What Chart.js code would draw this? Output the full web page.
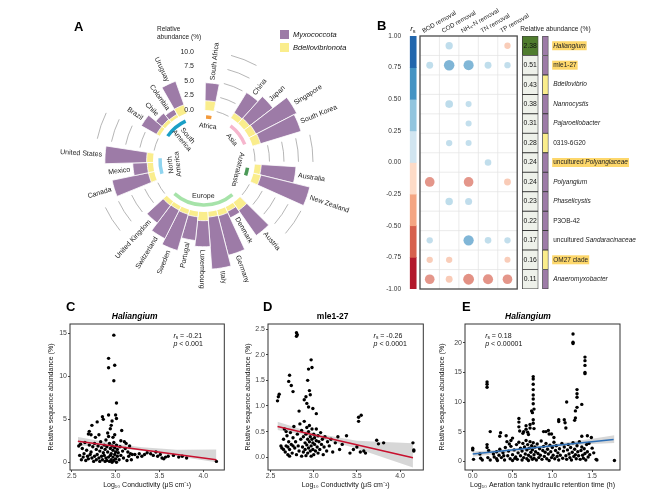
<!DOCTYPE html>
<html>
<head>
<meta charset="utf-8">
<title>Myxococcota in activated sludge</title>
<script src="https://cdn.jsdelivr.net/npm/chart.js@4.4.1/dist/chart.umd.min.js"></script>
<style>
  body { margin: 0; background: #fff; }
  #page { position: relative; width: 650px; height: 498px; overflow: hidden; font-family: 'Liberation Sans', Arial, sans-serif; }
  .box { position: absolute; }
  .tag { position: absolute; font-size: 13px; font-weight: bold; line-height: 13px; color: #000; }
</style>
</head>
<body>
<div id="page">
  <div class="box" style="left:40px;top:0;width:330px;height:310px"><canvas id="chartA"></canvas></div>
  <div class="box" style="left:370px;top:0;width:280px;height:300px"><canvas id="chartB"></canvas></div>
  <div class="box" style="left:45px;top:305px;width:185px;height:187px"><canvas id="chartC"></canvas></div>
  <div class="box" style="left:242px;top:305px;width:188px;height:187px"><canvas id="chartD"></canvas></div>
  <div class="box" style="left:436px;top:305px;width:192px;height:187px"><canvas id="chartE"></canvas></div>
  <div class="tag" style="left:74px;top:20px">A</div>
  <div class="tag" style="left:377px;top:19px">B</div>
  <div class="tag" style="left:66px;top:300px">C</div>
  <div class="tag" style="left:263px;top:300px">D</div>
  <div class="tag" style="left:462px;top:300px">E</div>
</div>
<script>
// ---- panel A: relative abundance per country (%)
var countries = ['South Africa', 'China', 'Japan', 'Singapore', 'South Korea', 'Australia', 'New Zealand',
  'Austria', 'Denmark', 'Germany', 'Italy', 'Luxembourg', 'Portugal', 'Sweden', 'Switzerland', 'United Kingdom',
  'Canada', 'Mexico', 'United States', 'Brazil', 'Chile', 'Colombia', 'Uruguay'];
var continents = ['Africa', 'Asia', 'Asia', 'Asia', 'Asia', 'Australasia', 'Australasia',
  'Europe', 'Europe', 'Europe', 'Europe', 'Europe', 'Europe', 'Europe', 'Europe', 'Europe',
  'North America', 'North America', 'North America', 'South America', 'South America', 'South America', 'South America'];
var myxococcota = [3.1, 4.1, 5.05, 7.9, 7.3, 6.0, 8.7, 5.3, 1.2, 7.0, 9.0, 4.5, 4.1, 6.5, 5.5, 3.8, 6.4, 2.5, 7.2, 3.0, 1.4, 1.0, 4.3];
var bdellovibrionota = [1.6, 1.0, 1.15, 1.3, 1.4, 1.1, 1.3, 1.6, 0.8, 1.0, 0.9, 1.5, 0.9, 0.8, 0.7, 0.8, 1.0, 1.0, 1.1, 0.6, 0.6, 0.5, 1.5];
var abundanceTicks = [0, 2.5, 5, 7.5, 10];

// ---- panel B: spearman correlations with removal efficiencies
var genera = ['Haliangium', 'mle1-27', 'Bdellovibrio', 'Nannocystis', 'Pajaroellobacter', '0319-6G20',
  'uncultured Polyangiaceae', 'Polyangium', 'Phaselicystis', 'P3OB-42', 'uncultured Sandaracinaceae', 'OM27 clade', 'Anaeromyxobacter'];
var relAbundance = [2.38, 0.51, 0.43, 0.38, 0.31, 0.28, 0.24, 0.24, 0.23, 0.22, 0.17, 0.16, 0.11];
var phylum = ['Myxococcota', 'Myxococcota', 'Bdellovibrionota', 'Myxococcota', 'Myxococcota', 'Bdellovibrionota',
  'Myxococcota', 'Myxococcota', 'Myxococcota', 'Myxococcota', 'Myxococcota', 'Bdellovibrionota', 'Myxococcota'];
var highlighted = ['Haliangium', 'mle1-27', 'uncultured Polyangiaceae', 'OM27 clade'];
var indicators = ['BOD removal', 'COD removal', 'NH\u2084-N removal', 'TN removal', 'TP removal'];
var rsBOD = [null, 0.32, null, null, null, null, null, -0.52, null, null, 0.28, -0.28, -0.52];
var rsCOD = [0.35, 0.58, null, 0.38, null, 0.28, null, null, 0.36, null, null, -0.28, -0.32];
var rsNH4 = [null, 0.55, null, 0.26, 0.26, 0.26, null, -0.52, 0.33, null, 0.56, null, -0.6];
var rsTN = [null, 0.32, null, null, null, null, 0.3, null, null, null, 0.3, null, -0.55];
var rsTP = [-0.28, 0.28, null, null, null, null, null, -0.32, null, null, 0.28, -0.26, -0.52];
var rsBands = [-1, -0.75, -0.5, -0.25, 0, 0.25, 0.5, 0.75, 1];

// ---- panels C-E: samples, fitted line and its confidence band [x, lower, upper]
var pointsC = [[2.98,14.8],[2.92,12.1],[2.92,11.0],[2.99,11.3],[2.98,9.5],[3.01,6.9],[3.00,5.5],[3.01,5.1],[2.92,5.5],[2.85,5.3],
  [2.86,5.0],[2.79,4.7],[2.73,4.3],[2.70,3.6],[2.69,3.3],[2.72,3.2],[2.96,4.8],[2.95,4.3],[2.94,3.9],[3.07,3.7],
  [2.91,3.4],[2.99,3.2],[2.92,3.0],[2.81,3.2],[2.77,2.9],[3.06,2.5],[3.10,2.4],[3.12,2.2],[2.97,2.9],[2.89,2.6],
  [2.58,1.9],[2.60,2.1],[2.62,1.6],[2.65,2.3],[2.67,1.4],[2.70,2.0],[2.72,1.2],[2.74,1.8],[2.76,2.2],[2.78,1.5],
  [2.80,1.9],[2.82,1.3],[2.83,2.4],[2.84,1.7],[2.86,1.1],[2.87,2.0],[2.88,1.5],[2.90,1.8],[2.91,1.2],[2.93,2.2],
  [2.94,1.6],[2.95,1.0],[2.96,1.9],[2.97,1.4],[2.98,2.3],[2.99,1.7],[3.00,1.2],[3.01,2.0],[3.02,1.5],[3.03,1.1],
  [3.05,1.8],[3.08,1.3],[3.11,1.6],[3.14,1.2],[3.16,1.9],[3.17,1.0],
  [2.59,0.8],[2.61,0.3],[2.63,0.6],[2.64,1.0],[2.66,0.2],[2.68,0.7],[2.69,0.4],[2.71,0.9],[2.73,0.5],[2.75,0.1],
  [2.76,0.7],[2.78,0.3],[2.79,0.9],[2.81,0.5],[2.82,0.1],[2.84,0.7],[2.85,0.3],[2.87,0.8],[2.88,0.1],[2.89,0.5],
  [2.90,0.2],[2.92,0.6],[2.93,0.1],[2.94,0.8],[2.95,0.3],[2.96,0.0],[2.97,0.6],[2.98,0.2],[2.99,0.9],[3.00,0.4],
  [3.01,0.0],[3.02,0.7],[3.04,0.3],[3.06,0.8],[3.09,0.5],[3.13,0.2],[3.15,0.7],[3.18,0.3],[3.19,0.9],
  [3.22,0.9],[3.25,0.6],[3.27,1.0],[3.30,0.7],[3.33,0.9],[3.36,1.1],[3.40,1.0],[3.43,0.8],[3.46,1.2],[3.48,0.7],
  [3.51,0.9],[3.53,0.5],[3.55,0.4],[3.57,0.6],[3.60,0.7],[3.66,0.8],[3.72,0.6],[3.76,0.7],[3.81,0.5],[4.15,0.1]];
var fitC = [[2.57, 2.45], [4.15, 0.3]];
var bandC = [[2.57, 1.95, 2.95], [3.0, 1.65, 2.15], [3.3, 1.35, 1.75], [3.7, 0.7, 1.45], [4.15, 0.0, 1.5]];

var pointsD = [[2.80,2.43],[2.81,2.39],[2.80,2.36],[2.97,1.90],[2.98,1.75],[2.94,1.72],[2.72,1.60],[2.93,1.50],[2.71,1.48],[2.74,1.40],
  [2.76,1.28],[2.58,1.10],[2.59,1.18],[2.60,1.23],[2.95,1.30],[2.96,1.22],[2.91,1.18],[2.92,1.05],[2.94,0.98],[2.89,1.12],
  [2.83,0.90],[3.03,0.85],[2.99,0.95],[3.52,0.78],[3.55,0.82],[3.52,0.70],[3.73,0.33],[3.75,0.26],[3.81,0.28],[4.15,0.28],
  [4.16,0.14],[4.16,0.12],
  [2.63,0.18],[2.65,0.35],[2.66,0.55],[2.67,0.10],[2.68,0.22],[2.69,0.42],[2.70,0.05],[2.71,0.30],[2.72,0.15],[2.73,0.48],
  [2.74,0.25],[2.75,0.08],[2.76,0.38],[2.77,0.60],[2.78,0.18],[2.79,0.30],[2.80,0.05],[2.81,0.45],[2.82,0.22],[2.83,0.12],
  [2.84,0.65],[2.85,0.35],[2.86,0.02],[2.86,0.52],[2.87,0.20],[2.88,0.40],[2.88,0.10],[2.89,0.70],[2.90,0.28],[2.90,0.15],
  [2.91,0.45],[2.91,0.03],[2.92,0.58],[2.92,0.24],[2.93,0.35],[2.93,0.08],[2.94,0.50],[2.94,0.18],[2.95,0.30],[2.95,0.62],
  [2.96,0.12],[2.96,0.40],[2.97,0.22],[2.97,0.02],[2.98,0.35],[2.98,0.55],[2.99,0.15],[2.99,0.28],[3.00,0.45],[3.00,0.05],
  [3.01,0.25],[3.01,0.38],[3.02,0.12],[3.03,0.32],[3.03,0.55],[3.04,0.20],[3.05,0.42],[3.05,0.08],[3.06,0.30],[3.07,0.15],
  [3.08,0.48],[3.09,0.25],[3.10,0.35],[3.11,0.05],[3.12,0.20],[3.13,0.40],[3.15,0.12],[3.16,0.30],[3.18,0.22],[3.20,0.35],
  [3.22,0.10],[3.25,0.28],[3.28,0.40],[3.30,0.15],[3.33,0.25],[3.38,0.42],[3.42,0.08],[3.46,0.15],[3.50,0.20],[3.54,0.10],
  [3.58,0.12],[3.60,0.08],[2.65,0.15],[2.70,0.20],[2.62,0.22],[2.68,0.50],[2.76,0.22],[2.72,0.02]];
var fitD = [[2.58, 0.6], [4.15, -0.01]];
var bandD = [[2.58, 0.53, 0.69], [3.0, 0.40, 0.47], [3.5, 0.17, 0.32], [4.15, -0.2, 0.27]];

var pointsE = [[1.26,21.5],[1.26,20.1],[1.26,19.9],[1.41,17.6],[1.41,17.0],[1.41,16.2],[1.41,15.0],[1.41,14.8],[0.76,14.3],[0.76,13.9],
  [0.76,13.0],[0.76,12.1],[0.76,11.2],[0.76,10.5],[0.76,9.7],[0.18,13.4],[0.18,13.0],[0.18,12.5],[1.31,12.1],[1.31,11.4],
  [1.31,10.8],[1.18,10.0],[1.37,9.6],[0.74,8.5],[0.77,8.8],[0.75,8.2],[1.31,9.1],[1.29,8.5],[1.29,7.3],[1.28,6.9],
  [1.08,7.0],[1.08,6.7],[1.15,7.0],[1.16,6.5],[1.17,5.6],[0.58,7.2],[0.58,6.6],[0.58,5.8],[0.59,5.1],[0.67,6.0],
  [0.67,5.4],[0.69,4.9],[0.70,4.5],[0.64,5.0],[0.63,4.7],[0.72,6.2],[0.72,5.6],[0.76,7.0],[0.76,6.4],[0.77,5.5],
  [0.89,5.0],[0.92,5.0],[0.95,5.2],[0.96,4.6],[0.99,4.6],[1.02,4.0],[1.49,4.0],[1.44,4.3],[1.37,4.2],[0.22,5.0],
  [0.35,4.8],[0.34,4.2],[0.48,3.5],[0.50,3.9],[0.43,3.3],[0.42,4.3],
  [0.00,2.2],[0.00,1.9],[0.01,0.3],[0.09,1.2],[0.10,0.5],[0.12,0.2],[0.18,2.8],[0.18,2.3],[0.19,0.6],[0.20,1.8],
  [0.22,0.2],[0.26,1.2],[0.30,1.6],[0.30,0.4],[0.31,0.1],[0.33,1.0],[0.34,2.0],[0.36,0.6],[0.38,1.4],[0.40,0.2],
  [0.41,2.3],[0.44,0.9],[0.45,1.7],[0.47,0.4],[0.48,2.5],[0.50,1.1],[0.50,0.1],[0.52,1.9],[0.54,0.7],[0.55,2.8],
  [0.56,0.3],[0.57,1.4],[0.58,3.2],[0.60,0.9],[0.60,2.2],[0.62,0.2],[0.62,1.7],[0.63,3.0],[0.64,0.6],[0.65,2.4],
  [0.66,1.2],[0.67,3.5],[0.68,0.4],[0.68,1.9],[0.69,2.8],[0.70,1.0],[0.70,0.1],[0.71,2.2],[0.72,3.3],[0.73,0.7],
  [0.73,1.5],[0.74,2.6],[0.75,0.3],[0.75,1.9],[0.76,3.1],[0.77,1.1],[0.77,0.5],[0.78,2.4],[0.79,1.6],[0.80,0.2],
  [0.81,2.9],[0.82,1.3],[0.83,0.6],[0.84,2.1],[0.85,1.0],[0.86,3.4],[0.87,0.3],[0.88,1.8],[0.89,2.5],[0.90,0.8],
  [0.91,1.5],[0.92,3.0],[0.93,0.4],[0.94,2.0],[0.95,1.2],[0.96,0.1],[0.97,2.7],[0.98,1.6],[0.99,0.6],[1.00,2.3],
  [1.01,1.0],[1.02,3.2],[1.03,0.4],[1.04,1.8],[1.05,2.6],[1.06,0.8],[1.07,1.4],[1.08,0.2],[1.09,2.1],[1.10,1.0],
  [1.12,3.0],[1.13,0.5],[1.14,1.7],[1.15,2.4],[1.17,0.9],[1.18,0.3],[1.19,1.9],[1.20,2.8],[1.21,1.2],[1.22,0.6],
  [1.23,2.3],[1.24,0.2],[1.25,1.5],[1.26,3.1],[1.27,0.8],[1.28,2.0],[1.29,1.1],[1.30,0.4],[1.31,2.6],[1.32,1.6],
  [1.33,0.9],[1.34,3.3],[1.35,0.3],[1.36,1.8],[1.37,2.4],[1.38,1.0],[1.39,0.5],[1.40,2.1],[1.41,1.3],[1.42,0.2],
  [1.43,2.8],[1.44,1.6],[1.45,0.7],[1.46,3.0],[1.47,1.1],[1.50,2.2],[1.52,1.4],[1.55,0.3],[1.56,0.2],[1.78,0.1],
  [0.27,0.7],[0.39,0.9],[0.53,0.5],[0.46,2.9]];
var fitE = [[0.0, 1.2], [1.77, 3.65]];
var bandE = [[0.0, 0.75, 1.65], [0.5, 1.5, 2.1], [1.0, 2.35, 2.85], [1.5, 2.9, 3.8], [1.78, 3.05, 4.4]];

// ---- shared styling
var FAMILY = "'Liberation Sans', Arial, sans-serif";
var purple = '#9d7ba7', yellow = '#faed8c';
var bandColors = ['#b2182b', '#d6604d', '#f4a582', '#fddbc7', '#d1e5f0', '#92c5de', '#4393c3', '#2166ac'];
var ringColors = { 'Africa': '#f39a3c', 'Asia': '#f6b6cd', 'Australasia': '#4c9a58', 'Europe': '#a6e3a9',
  'North America': '#8fd4ef', 'South America': '#1a9fc6' };

Chart.defaults.font.family = FAMILY;
Chart.defaults.color = '#333';
Chart.defaults.animation = false;

function fontStr(size, style, weight) {
  return (style || 'normal') + ' ' + (weight || 'normal') + ' ' + size + 'px ' + FAMILY;
}

function hexToRgba(hex, a) {
  var n = parseInt(hex.slice(1), 16);
  return 'rgba(' + (n >> 16) + ',' + ((n >> 8) & 255) + ',' + (n & 255) + ',' + a + ')';
}

function rsColor(v) {
  var k = Math.max(0, Math.min(7, Math.floor((v + 1) / 0.25)));
  return hexToRgba(bandColors[k], 0.45 + 0.4 * Math.abs(v));
}

// italic r with subscript s, returns the x where it ends
function drawRs(ctx, x, y, size) {
  ctx.font = fontStr(size, 'italic');
  ctx.fillText('r', x, y);
  var w = ctx.measureText('r').width;
  ctx.font = fontStr(size * 0.7);
  ctx.fillText('s', x + w, y + size * 0.25);
  return x + w + ctx.measureText('s').width;
}

/*==================== A: circular stacked bars ====================*/
var slotLabel = [], slotCont = [], slotOuter = [], slotInner = [], gapStarts = [];
function addGap() {
  gapStarts.push(slotLabel.length);
  for (var g = 0; g < 2; g++) {
    slotLabel.push(''); slotCont.push(null); slotOuter.push(0); slotInner.push(0);
  }
}
for (var i = 0; i < countries.length; i++) {
  if (i > 0 && continents[i] !== continents[i - 1]) addGap();
  slotLabel.push(countries[i]);
  slotCont.push(continents[i]);
  slotOuter.push(myxococcota[i] + bdellovibrionota[i]); // stacked on top of Bdellovibrionota
  slotInner.push(bdellovibrionota[i]);
}
addGap(); // the gap holding the radial axis

var circularDecor = {
  id: 'circularDecor',
  afterDatasetsDraw: function (chart) {
    var ctx = chart.ctx, scale = chart.scales.r;
    var cx = scale.xCenter, cy = scale.yCenter;
    var r0 = scale.getDistanceFromCenterForValue(0);
    var arcs = chart.getDatasetMeta(1).data;
    ctx.save();
    ctx.fillStyle = '#fff';
    ctx.beginPath();
    ctx.arc(cx, cy, r0, 0, Math.PI * 2);
    ctx.fill();

    // grid arcs, only in the gaps between continents
    ctx.strokeStyle = '#a3a3a3';
    ctx.lineWidth = 0.8;
    gapStarts.slice(0, -1).forEach(function (g) {
      var a0 = arcs[g].startAngle, a1 = arcs[g + 1].endAngle, pad = (a1 - a0) * 0.15;
      abundanceTicks.forEach(function (v) {
        ctx.beginPath();
        ctx.arc(cx, cy, scale.getDistanceFromCenterForValue(v), a0 + pad, a1 - pad);
        ctx.stroke();
      });
    });

    // radial axis
    ctx.fillStyle = '#222';
    ctx.font = fontStr(7);
    ctx.textAlign = 'right';
    ctx.textBaseline = 'middle';
    abundanceTicks.forEach(function (v) {
      ctx.fillText(v.toFixed(1), cx - 10, cy - scale.getDistanceFromCenterForValue(v));
    });
    var rTop = cy - scale.getDistanceFromCenterForValue(abundanceTicks[abundanceTicks.length - 1]);
    ctx.textAlign = 'left';
    ctx.font = fontStr(6.5);
    ctx.fillText('Relative', cx - 47, rTop - 23);
    ctx.fillText('abundance (%)', cx - 47, rTop - 15);

    // country names along the radius
    ctx.font = fontStr(7);
    arcs.forEach(function (arc, i) {
      if (!slotCont[i]) return;
      var mid = (arc.startAngle + arc.endAngle) / 2;
      var rr = arc.outerRadius + 3;
      var flip = Math.cos(mid) < -0.05;
      ctx.save();
      ctx.translate(cx + rr * Math.cos(mid), cy + rr * Math.sin(mid));
      ctx.rotate(flip ? mid + Math.PI : mid);
      ctx.textAlign = flip ? 'right' : 'left';
      ctx.fillText(slotLabel[i], 0, 0);
      ctx.restore();
    });

    // continent rings and names
    var groups = [];
    slotCont.forEach(function (c) { if (c && groups.indexOf(c) < 0) groups.push(c); });
    groups.forEach(function (c) {
      var idx = [];
      slotCont.forEach(function (cc, k) { if (cc === c) idx.push(k); });
      var f = arcs[idx[0]], l = arcs[idx[idx.length - 1]];
      var a0 = (f.startAngle + f.endAngle) / 2, a1 = (l.startAngle + l.endAngle) / 2;
      var mid = (a0 + a1) / 2, minSpan = 7 * Math.PI / 180;
      if (a1 - a0 < minSpan) { a0 = mid - minSpan / 2; a1 = mid + minSpan / 2; }
      ctx.strokeStyle = ringColors[c];
      ctx.lineWidth = 3.5;
      ctx.beginPath();
      ctx.arc(cx, cy, r0 - 7, a0, a1);
      ctx.stroke();

      var lines = c.indexOf(' ') > 0 ? c.split(' ') : [c];
      var rl = lines.length > 1 ? r0 - 21 : r0 - 16;
      var rot = c === 'South America' ? mid + Math.PI : mid + Math.PI / 2;
      rot = Math.atan2(Math.sin(rot), Math.cos(rot));
      if (Math.abs(rot) > 110 * Math.PI / 180) rot -= Math.PI;
      ctx.save();
      ctx.translate(cx + rl * Math.cos(mid), cy + rl * Math.sin(mid));
      ctx.rotate(rot);
      ctx.fillStyle = '#222';
      ctx.font = fontStr(7);
      ctx.textAlign = 'center';
      ctx.textBaseline = 'middle';
      lines.forEach(function (t, k) { ctx.fillText(t, 0, (k - (lines.length - 1) / 2) * 7.5); });
      ctx.restore();
    });

    // legend
    [1, 0].forEach(function (d, k) {
      var ds = chart.data.datasets[d];
      var y = 30 + k * 13;
      ctx.fillStyle = ds.backgroundColor[0];
      ctx.fillRect(240, y, 9, 9);
      ctx.fillStyle = '#111';
      ctx.font = fontStr(7.5, 'italic');
      ctx.textAlign = 'left';
      ctx.textBaseline = 'middle';
      ctx.fillText(ds.label, 253, y + 4.5);
    });
    ctx.restore();
  }
};

new Chart(document.getElementById('chartA'), {
  type: 'polarArea',
  data: {
    labels: slotLabel,
    datasets: [{
      label: 'Bdellovibrionota',
      data: slotInner,
      backgroundColor: slotCont.map(function (c) { return c ? yellow : 'rgba(0,0,0,0)'; }),
      borderColor: slotCont.map(function (c) { return c ? '#fff' : 'rgba(0,0,0,0)'; }),
      borderWidth: 0.8
    }, {
      label: 'Myxococcota',
      data: slotOuter,
      backgroundColor: slotCont.map(function (c) { return c ? purple : 'rgba(0,0,0,0)'; }),
      borderColor: slotCont.map(function (c) { return c ? '#fff' : 'rgba(0,0,0,0)'; }),
      borderWidth: 0.8
    }]
  },
  options: {
    responsive: true,
    maintainAspectRatio: false,
    animation: false,
    events: [],
    layout: { padding: { left: 19, top: 16, right: 21, bottom: 4 } },
    plugins: { legend: { display: false }, tooltip: { enabled: false } },
    scales: {
      r: {
        min: -8.79,
        max: 16.21,
        beginAtZero: false,
        startAngle: 1,
        ticks: { display: false },
        grid: { display: false },
        angleLines: { display: false },
        pointLabels: { display: false }
      }
    }
  },
  plugins: [circularDecor]
});

/*==================== B: correlation bubbles ====================*/
var cellSpan = [5.26, 6.08], stripSpan = [6.3, 6.6], barX = -0.35, labelX = 6.85;
var gridLeftPx = 50, unitPx = 19.44; // where column 0 starts inside the canvas, and the column width
var heatPoints = [];
[rsBOD, rsCOD, rsNH4, rsTN, rsTP].forEach(function (col, j) {
  col.forEach(function (v, i) {
    if (v !== null) heatPoints.push({ x: j + 0.5, y: genera[i], r: 1.2 + 7 * Math.abs(v), v: v });
  });
});
var colorbarBars = bandColors.map(function (c, k) { return { x: barX, y: [rsBands[k], rsBands[k + 1]] }; });
var abundanceCells = genera.map(function (g) { return { x: cellSpan, y: g }; });
var phylumCells = genera.map(function (g) { return { x: stripSpan, y: g }; });

function drawGenus(ctx, name, x, y) {
  var parts = name.indexOf('uncultured ') === 0 ?
    [['uncultured ', false], [name.slice(11), true]] :
    [[name, /^[A-Z][a-z]+$/.test(name)]];
  var w = 0;
  parts.forEach(function (p) { ctx.font = fontStr(6.5, p[1] ? 'italic' : 'normal'); w += ctx.measureText(p[0]).width; });
  if (highlighted.indexOf(name) >= 0) {
    ctx.fillStyle = '#fdd76b';
    ctx.fillRect(x - 1, y - 4.5, w + 2, 9);
  }
  ctx.fillStyle = '#222';
  parts.forEach(function (p) {
    ctx.font = fontStr(6.5, p[1] ? 'italic' : 'normal');
    ctx.fillText(p[0], x, y);
    x += ctx.measureText(p[0]).width;
  });
}

var heatDecor = {
  id: 'heatDecor',
  // pin the x scale so the grid columns land where the figure has them
  afterLayout: function (chart) {
    var xs = chart.scales.x;
    var A = xs.getPixelForValue(xs.min), B = xs.getPixelForValue(xs.max);
    var mn = -(gridLeftPx - A) / unitPx;
    xs.min = mn;
    xs.max = mn + (B - A) / unitPx;
    xs.configure();
  },
  beforeDatasetsDraw: function (chart) {
    var ctx = chart.ctx, xs = chart.scales.x, ys = chart.scales.y, area = chart.chartArea;
    var x0 = xs.getPixelForValue(0), x1 = xs.getPixelForValue(indicators.length);
    ctx.save();
    ctx.strokeStyle = '#e2e2e2';
    ctx.lineWidth = 0.7;
    ctx.beginPath();
    for (var j = 1; j < indicators.length; j++) {
      var px = xs.getPixelForValue(j);
      ctx.moveTo(px, area.top); ctx.lineTo(px, area.bottom);
    }
    for (var i = 1; i < genera.length; i++) {
      var py = (ys.getPixelForValue(i - 1) + ys.getPixelForValue(i)) / 2;
      ctx.moveTo(x0, py); ctx.lineTo(x1, py);
    }
    ctx.stroke();
    ctx.restore();
  },
  afterDatasetsDraw: function (chart) {
    var ctx = chart.ctx, xs = chart.scales.x, ys = chart.scales.y, area = chart.chartArea;
    var x0 = xs.getPixelForValue(0), x1 = xs.getPixelForValue(indicators.length);
    ctx.save();
    ctx.strokeStyle = '#4a4a4a';
    ctx.lineWidth = 1.3;
    ctx.strokeRect(x0, area.top, x1 - x0, area.bottom - area.top);

    ctx.fillStyle = '#222';
    ctx.font = fontStr(6.3);
    ctx.textAlign = 'left';
    ctx.textBaseline = 'alphabetic';
    indicators.forEach(function (name, j) {
      ctx.save();
      ctx.translate(xs.getPixelForValue(j + 0.5) - 6, area.top - 3);
      ctx.rotate(-Math.PI / 6);
      ctx.fillText(name, 0, 0);
      ctx.restore();
    });
    ctx.font = fontStr(6.6);
    ctx.fillText('Relative abundance (%)', xs.getPixelForValue(cellSpan[0]) - 2, area.top - 5);
    drawRs(ctx, xs.getPixelForValue(barX) - 3, area.top - 5, 8);

    ctx.textAlign = 'center';
    ctx.textBaseline = 'middle';
    ctx.font = fontStr(6.8);
    ctx.fillStyle = '#111';
    var cellMid = (cellSpan[0] + cellSpan[1]) / 2;
    relAbundance.forEach(function (v, i) {
      ctx.fillText(v.toFixed(2), xs.getPixelForValue(cellMid), ys.getPixelForValue(i));
    });

    ctx.textAlign = 'left';
    genera.forEach(function (g, i) { drawGenus(ctx, g, xs.getPixelForValue(labelX), ys.getPixelForValue(i)); });
    ctx.restore();
  }
};

new Chart(document.getElementById('chartB'), {
  type: 'bubble',
  data: {
    datasets: [{
      data: heatPoints,
      backgroundColor: function (c) { return c.raw ? rsColor(c.raw.v) : '#ccc'; },
      borderWidth: 0
    }, {
      type: 'bar',
      yAxisID: 'yc',
      data: colorbarBars,
      backgroundColor: bandColors,
      borderWidth: 0,
      barThickness: 6,
      grouped: false
    }, {
      type: 'bar',
      indexAxis: 'y',
      data: abundanceCells,
      backgroundColor: relAbundance.map(function (v) { return v > 1 ? '#4f7c2e' : '#eef1ea'; }),
      borderColor: '#3a3a3a',
      borderWidth: 0.8,
      borderSkipped: false,
      barThickness: 19.4,
      grouped: false
    }, {
      type: 'bar',
      indexAxis: 'y',
      data: phylumCells,
      backgroundColor: phylum.map(function (p) { return p === 'Myxococcota' ? purple : yellow; }),
      borderColor: '#3a3a3a',
      borderWidth: 0.8,
      borderSkipped: false,
      barThickness: 19.4,
      grouped: false
    }]
  },
  options: {
    responsive: true,
    maintainAspectRatio: false,
    animation: false,
    events: [],
    layout: { padding: { left: 0, top: 36, right: 36, bottom: 11 } },
    plugins: { legend: { display: false }, tooltip: { enabled: false } },
    scales: {
      x: { type: 'linear', min: -0.8, max: 10, offset: false, grid: { offset: false }, display: false },
      y: { type: 'category', labels: genera, offset: true, display: false },
      yc: {
        type: 'linear',
        position: 'left',
        min: -1,
        max: 1,
        ticks: { stepSize: 0.25, callback: function (v) { return v.toFixed(2); }, font: { size: 6.5 }, color: '#333', padding: 3 },
        grid: { display: false, drawTicks: false },
        border: { display: false },
        afterFit: function (s) { s.width = 34; }
      }
    }
  },
  plugins: [heatDecor]
});

/*==================== C-E: scatter with fitted line ====================*/
var rsNote = {
  id: 'rsNote',
  afterDatasetsDraw: function (chart, args, opts) {
    var a = chart.chartArea, ctx = chart.ctx;
    var x = a.left + opts.at * (a.right - a.left);
    ctx.save();
    ctx.fillStyle = '#111';
    ctx.textAlign = 'left';
    ctx.textBaseline = 'alphabetic';
    var x2 = drawRs(ctx, x, a.top + 13.5, 7);
    ctx.font = fontStr(7);
    ctx.fillText(' = ' + opts.rs, x2, a.top + 13.5);
    ctx.font = fontStr(7, 'italic');
    ctx.fillText('p', x, a.top + 21.5);
    var w = ctx.measureText('p').width;
    ctx.font = fontStr(7);
    ctx.fillText(' ' + opts.p, x + w, a.top + 21.5);
    ctx.strokeStyle = '#333';
    ctx.lineWidth = 1;
    ctx.strokeRect(a.left, a.top, a.right - a.left, a.bottom - a.top);
    ctx.restore();
  }
};

function toXY(p) { return { x: p[0], y: p[1] }; }

function makeScatter(id, pts, fit, band, cfg) {
  return new Chart(document.getElementById(id), {
    type: 'scatter',
    data: {
      datasets: [{
        type: 'line',
        data: fit.map(toXY),
        borderColor: cfg.lineColor,
        borderWidth: 1.6,
        pointRadius: 0,
        fill: false
      }, {
        data: pts.map(toXY),
        pointRadius: 1.7,
        pointBackgroundColor: '#000',
        pointBorderWidth: 0
      }, {
        type: 'line',
        data: band.map(function (b) { return { x: b[0], y: b[1] }; }),
        borderColor: 'rgba(0,0,0,0)',
        borderWidth: 0,
        pointRadius: 0,
        fill: false
      }, {
        type: 'line',
        data: band.map(function (b) { return { x: b[0], y: b[2] }; }),
        borderColor: 'rgba(0,0,0,0)',
        borderWidth: 0,
        pointRadius: 0,
        fill: '-1',
        backgroundColor: 'rgba(160,160,160,0.42)'
      }]
    },
    options: {
      responsive: true,
      maintainAspectRatio: false,
      animation: false,
      events: [],
      layout: { padding: { top: 6.8, right: cfg.padRight, left: 0, bottom: 0 } },
      plugins: {
        legend: { display: false },
        tooltip: { enabled: false },
        title: {
          display: true,
          text: cfg.title,
          color: '#000',
          font: { size: 8.5, weight: 'bold', style: cfg.italic ? 'italic' : 'normal' },
          padding: { top: 0, bottom: 2 }
        },
        rsNote: { rs: cfg.rs, p: cfg.p, at: cfg.noteAt }
      },
      scales: {
        x: {
          type: 'linear',
          min: cfg.xMin,
          max: cfg.xMax,
          ticks: { stepSize: 0.5, includeBounds: false, callback: function (v) { return v.toFixed(1); }, font: { size: 7 }, color: '#444', padding: 0 },
          grid: { drawOnChartArea: false, tickLength: 2, tickColor: '#444' },
          border: { display: false },
          title: { display: true, text: cfg.xTitle, color: '#111', font: { size: 7 }, padding: { top: 0, bottom: 3 } },
          afterFit: function (s) { s.height = 22; }
        },
        y: {
          type: 'linear',
          min: cfg.yMin,
          max: cfg.yMax,
          ticks: { stepSize: cfg.yStep, includeBounds: false, callback: function (v) { return v.toFixed(cfg.yDigits); }, font: { size: 7 }, color: '#444', padding: 1 },
          grid: { drawOnChartArea: false, tickLength: 2, tickColor: '#444' },
          border: { display: false },
          title: { display: true, text: 'Relative sequence abundance (%)', color: '#111', font: { size: 7 }, padding: { top: 2, bottom: 0 } },
          afterFit: function (s) { s.width = cfg.yWidth; }
        }
      }
    },
    plugins: [rsNote]
  });
}

makeScatter('chartC', pointsC, fitC, bandC, {
  title: 'Haliangium', italic: true, lineColor: '#c8102e', rs: '-0.21', p: '< 0.001', noteAt: 0.67,
  xMin: 2.48, xMax: 4.24, yMin: -0.9, yMax: 16.1, yStep: 5, yDigits: 0, yWidth: 25, padRight: 5.7,
  xTitle: 'Log\u2081\u2080 Conductivity (\u03bcS cm\u207b\u00b9)'
});
makeScatter('chartD', pointsD, fitD, bandD, {
  title: 'mle1-27', italic: false, lineColor: '#c8102e', rs: '-0.26', p: '< 0.0001', noteAt: 0.68,
  xMin: 2.47, xMax: 4.27, yMin: -0.25, yMax: 2.6, yStep: 0.5, yDigits: 1, yWidth: 26, padRight: 6.7,
  xTitle: 'Log\u2081\u2080 Conductivity (\u03bcS cm\u207b\u00b9)'
});
makeScatter('chartE', pointsE, fitE, bandE, {
  title: 'Haliangium', italic: true, lineColor: '#2d6fb6', rs: '0.18', p: '< 0.00001', noteAt: 0.13,
  xMin: -0.097, xMax: 1.85, yMin: -1.5, yMax: 23.2, yStep: 5, yDigits: 0, yWidth: 29, padRight: 8,
  xTitle: 'Log\u2081\u2080 Aeration tank hydraulic retention time (h)'
});
</script>
</body>
</html>
